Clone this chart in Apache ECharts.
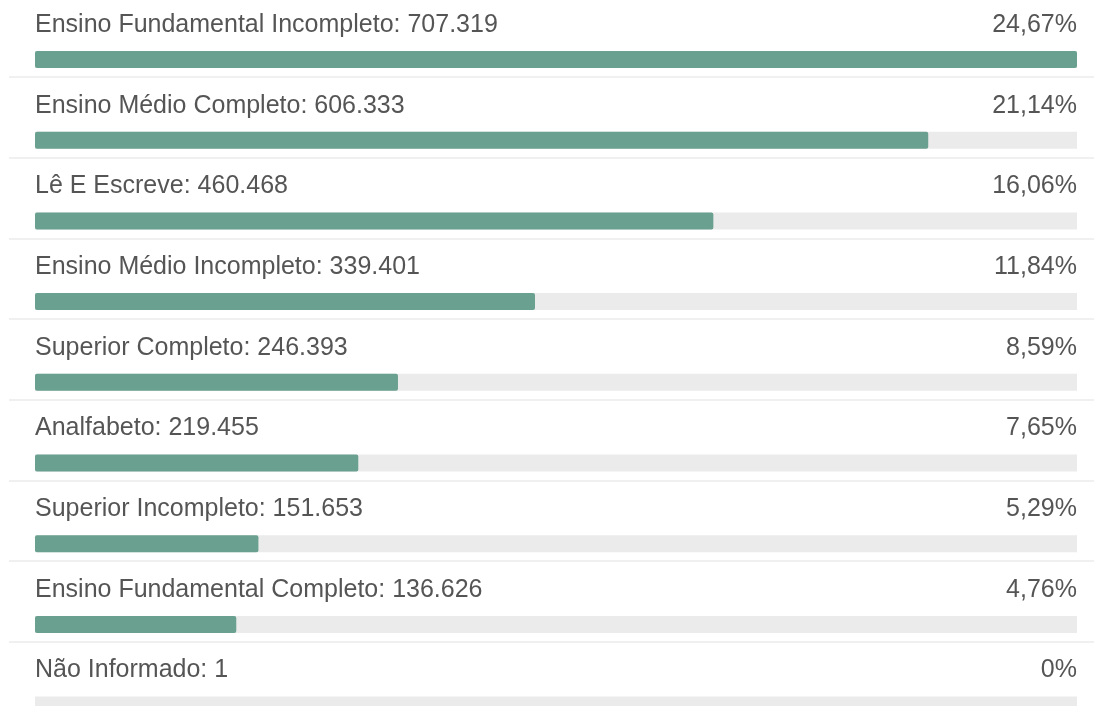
<!DOCTYPE html>
<html>
<head>
<meta charset="utf-8">
<script src="https://cdn.jsdelivr.net/npm/echarts@6/dist/echarts.min.js"></script>
<style>
html,body{margin:0;padding:0;background:#fff;overflow:hidden;}
#c{width:1094px;height:840px;}
</style>
</head>
<body>
<div id="c"></div>
<script>
const categories = ['Ensino Fundamental Incompleto','Ensino Médio Completo','Lê E Escreve','Ensino Médio Incompleto','Superior Completo','Analfabeto','Superior Incompleto','Ensino Fundamental Completo','Não Informado'];
const values = [707319, 606333, 460468, 339401, 246393, 219455, 151653, 136626, 1];
const percents = ['24,67%','21,14%','16,06%','11,84%','8,59%','7,65%','5,29%','4,76%','0%'];

const maxVal = Math.max(...values);
function fmt(n){ return String(n).replace(/\B(?=(\d{3})+(?!\d))/g, '.'); }

const FONT = '"Liberation Sans", Arial, sans-serif';
const TXT = '#555555';
const ROW = 80.7;

const chart = echarts.init(document.getElementById('c'));
chart.setOption({
  animation: false,
  grid: [
    {left: 35, right: 17, top: 59.5 - ROW/2, height: ROW*9},
    {left: 9, right: 0, top: 77, height: ROW*9}
  ],
  xAxis: [
    {type: 'value', gridIndex: 0, min: 0, max: maxVal, show: false},
    {type: 'value', gridIndex: 1, min: 0, max: 1, show: false}
  ],
  yAxis: [
    {type: 'category', gridIndex: 0, inverse: true, data: categories, show: false},
    {type: 'category', gridIndex: 1, inverse: true, data: categories,
     axisLine: {show: false}, axisTick: {show: false}, axisLabel: {show: false},
     splitLine: {show: true, lineStyle: {color: '#f0f0f0', width: 2}}}
  ],
  series: [
    {
      type: 'bar', xAxisIndex: 0, yAxisIndex: 0,
      data: values,
      barWidth: 17,
      barGap: '-100%',
      itemStyle: {color: '#6aa08f', borderRadius: 2},
      showBackground: true,
      backgroundStyle: {color: '#ebebeb'},
      z: 3,
      label: {
        show: true, position: [0, -26], align: 'left', verticalAlign: 'middle',
        color: TXT, fontFamily: FONT, fontSize: 25,
        formatter: p => categories[p.dataIndex] + ': ' + fmt(values[p.dataIndex])
      }
    },
    {
      type: 'bar', xAxisIndex: 0, yAxisIndex: 0,
      data: values.map(() => maxVal),
      barWidth: 17,
      itemStyle: {color: 'rgba(0,0,0,0)'},
      z: 2,
      silent: true,
      label: {
        show: true, position: ['100%', -26], align: 'right', verticalAlign: 'middle',
        color: TXT, fontFamily: FONT, fontSize: 25,
        formatter: p => percents[p.dataIndex]
      }
    }
  ]
});
</script>
</body>
</html>
